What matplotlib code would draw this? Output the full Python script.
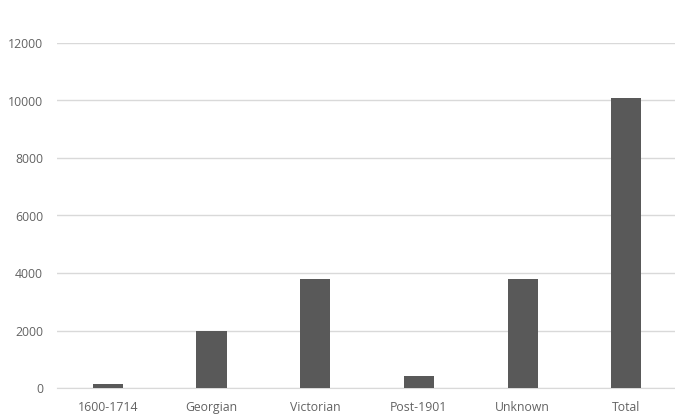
import matplotlib.pyplot as plt

periods = ["1600-1714", "Georgian", "Victorian", "Post-1901", "Unknown", "Total"]
counts = [125, 1980, 3780, 430, 3780, 10080]
yticks = [0, 2000, 4000, 6000, 8000, 10000, 12000]

plt.rcParams["font.family"] = ["Open Sans", "DejaVu Sans"]

fig = plt.figure(figsize=(6.75, 4.19), dpi=100)
ax = fig.add_axes([57 / 675, 31 / 419, 618 / 675, 345 / 419])

x = range(len(periods))
ax.bar(x, counts, width=0.29, color="#595959", zorder=3)

ax.set_xlim(-0.49, 5.47)
ax.set_ylim(0, 12000)
ax.set_yticks(yticks)
ax.set_yticklabels([str(v) for v in yticks])
ax.set_xticks(list(x))
ax.set_xticklabels(periods)

ax.grid(axis="y", color="#d9d9d9", linewidth=1, zorder=0)
ax.set_axisbelow(True)
for side in ["top", "right", "left"]:
    ax.spines[side].set_visible(False)
ax.spines["bottom"].set_color("#d9d9d9")
ax.tick_params(axis="both", length=0, labelsize=8.8, labelcolor="#636363")
ax.tick_params(axis="y", pad=10)
ax.tick_params(axis="x", pad=9.5)

fig.savefig("out.png", dpi=100)
